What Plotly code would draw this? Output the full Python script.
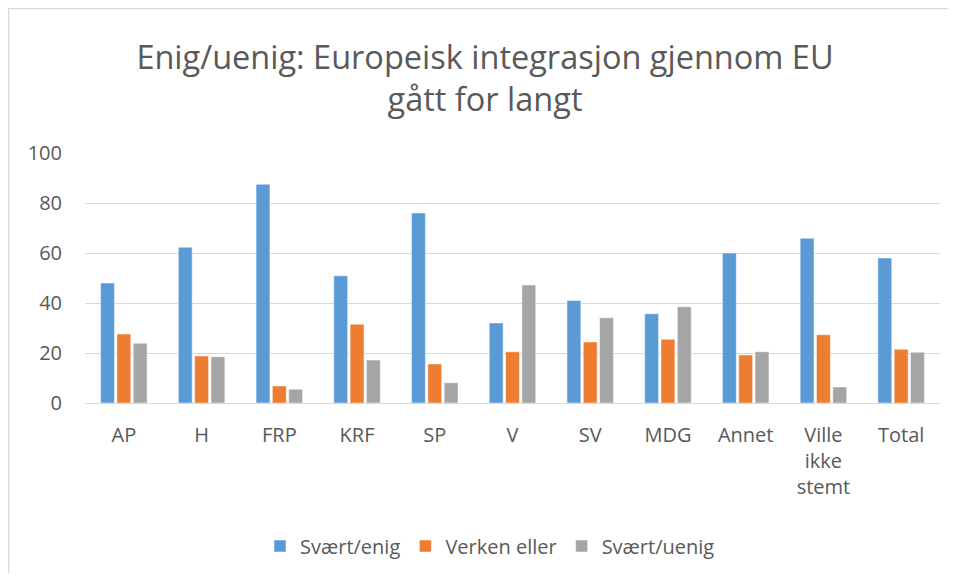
import plotly.graph_objects as go

categories = ["AP", "H", "FRP", "KRF", "SP", "V", "SV", "MDG", "Annet", "Ville<br>ikke<br>stemt", "Total"]
enig = [48, 62.3, 87.5, 50.9, 76, 32, 41, 35.7, 60, 65.9, 58]
verken = [27.6, 18.8, 6.8, 31.5, 15.6, 20.5, 24.4, 25.5, 19.2, 27.3, 21.5]
uenig = [23.9, 18.5, 5.5, 17.2, 8.1, 47.2, 34.1, 38.5, 20.5, 6.4, 20.3]
series_names = ["Svært/enig", "Verken eller", "Svært/uenig"]
colors = ["#5B9BD5", "#ED7D31", "#A5A5A5"]
y_ticks = [0, 20, 40, 60, 80, 100]

# page body has an 8px margin, so the figure is drawn from (8, 8)
W, H = 940, 565
L, R, T, B = 77, 8, 145, 170
pw, ph = W - L - R, H - T - B

def px_to_paper_x(px):
    return (px - L) / pw

def px_to_paper_y(py):
    return (H - B - py) / ph

fig = go.Figure()
for name, vals, c in zip(series_names, [enig, verken, uenig], colors):
    fig.add_trace(go.Bar(
        x=categories, y=vals, name=name,
        marker=dict(color=c, line=dict(color="rgba(255,255,255,0.6)", width=0.8)),
    ))

font_family = "'Open Sans', sans-serif"
fig.update_layout(
    width=W, height=H,
    margin=dict(l=L, r=R, t=T, b=B),
    paper_bgcolor="white", plot_bgcolor="white",
    barmode="group", bargap=0.37, bargroupgap=0.15,
    font=dict(family=font_family, color="#595959", size=20),
    title=dict(
        text="Enig/uenig: Europeisk integrasjon gjennom EU<br>gått for langt",
        x=px_to_paper_x(477), xref="paper", xanchor="center",
        y=1 - 61 / H, yanchor="middle",
        font=dict(size=32.5, color="#595959", family=font_family),
    ),
    yaxis=dict(
        range=[0, 100], tickvals=y_ticks, showgrid=True,
        gridcolor="#D9D9D9", gridwidth=1.3, zeroline=False,
        showline=False, ticks="", ticklabelstandoff=22,
        tickfont=dict(size=20, color="#595959"),
    ),
    xaxis=dict(
        showline=True, linecolor="#D9D9D9", linewidth=1.3,
        ticks="", ticklabelstandoff=14,
        tickfont=dict(size=20, color="#595959"),
    ),
    legend=dict(
        orientation="h", x=px_to_paper_x(482), xanchor="center",
        y=px_to_paper_y(538), yanchor="middle",
        font=dict(size=20, color="#595959"),
        itemwidth=30, tracegroupgap=0,
    ),
    showlegend=True,
)

border = dict(color="#D9D9D9", width=1.3)
fig.add_shape(type="line", xref="paper", yref="paper",
              x0=px_to_paper_x(0.7), x1=px_to_paper_x(0.7),
              y0=px_to_paper_y(0), y1=px_to_paper_y(H), line=border)
fig.add_shape(type="line", xref="paper", yref="paper",
              x0=px_to_paper_x(0), x1=px_to_paper_x(W),
              y0=px_to_paper_y(0.7), y1=px_to_paper_y(0.7), line=border)

fig.write_html("out.html")
